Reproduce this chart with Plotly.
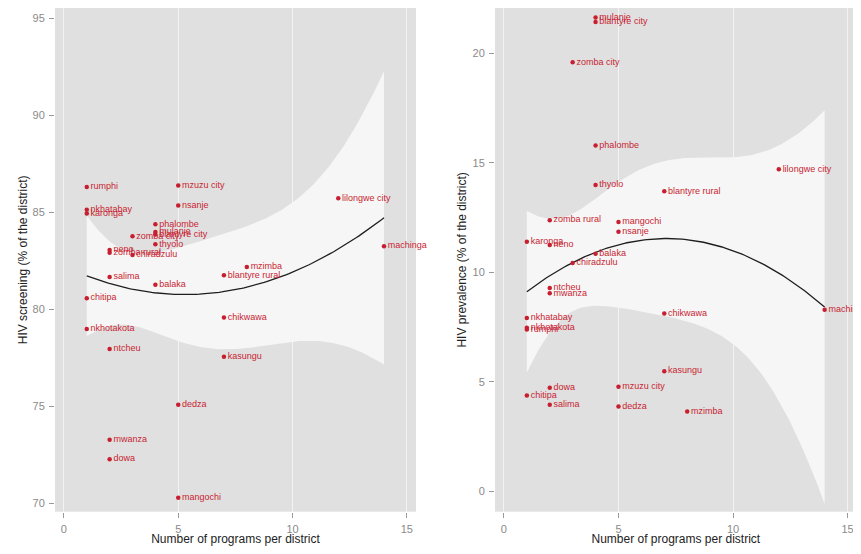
import numpy as np
import plotly.graph_objects as go

# ---------------- data ----------------
scr_names = ["rumphi", "nkhatabay", "karonga", "mzuzu city", "nsanje", "phalombe", "mulanje",
             "blantyre city", "zomba city", "thyolo", "neno", "zomba rural", "chiradzulu", "salima",
             "balaka", "chitipa", "mzimba", "blantyre rural", "lilongwe city", "machinga",
             "nkhotakota", "chikwawa", "ntcheu", "kasungu", "dedza", "mwanza", "dowa", "mangochi"]
scr_programs = [1, 1, 1, 5, 5, 4, 4, 4, 3, 4, 2, 2, 3, 2, 4, 1, 8, 7, 12, 14, 1, 7, 2, 7, 5, 2, 2, 5]
scr_values = [86.32, 85.14, 84.95, 86.39, 85.36, 84.39, 84.00, 83.87, 83.77, 83.36, 83.07, 82.93,
              82.81, 81.68, 81.27, 80.58, 82.19, 81.76, 85.73, 83.26, 78.99, 79.58, 77.96, 77.56,
              75.09, 73.28, 72.28, 70.29]

prev_names = ["mulanje", "blantyre city", "zomba city", "phalombe", "thyolo", "blantyre rural",
              "zomba rural", "mangochi", "nsanje", "karonga", "neno", "balaka", "chiradzulu",
              "ntcheu", "mwanza", "chikwawa", "nkhatabay", "nkhotakota", "rumphi", "kasungu",
              "dowa", "mzuzu city", "chitipa", "salima", "dedza", "mzimba", "lilongwe city",
              "machinga"]
prev_programs = [4, 4, 3, 4, 4, 7, 2, 5, 5, 1, 2, 4, 3, 2, 2, 7, 1, 1, 1, 7, 2, 5, 1, 2, 5, 8, 12, 14]
prev_values = [21.64, 21.43, 19.59, 15.79, 13.99, 13.70, 12.38, 12.30, 11.85, 11.39, 11.25, 10.84,
               10.42, 9.28, 9.04, 8.12, 7.91, 7.46, 7.38, 5.48, 4.72, 4.77, 4.37, 3.95, 3.87, 3.64,
               14.70, 8.29]

x_ticks = [0, 5, 10, 15]
scr_ticks = [70, 75, 80, 85, 90, 95]
prev_ticks = [0, 5, 10, 15, 20]

T_CRIT = 2.0595  # t(0.975, df=25)

RED = "#c81e32"
PANEL = "#e0e0e0"
BAND = "#f6f6f6"
GRID = "#f3f3f3"
FONT = "Liberation Sans, Arial, Helvetica, sans-serif"


def qfitci(x, y, n=120):
    x = np.asarray(x, float)
    y = np.asarray(y, float)
    X = np.column_stack([np.ones_like(x), x, x ** 2])
    beta, *_ = np.linalg.lstsq(X, y, rcond=None)
    resid = y - X @ beta
    s2 = resid @ resid / (len(x) - 3)
    xtx_inv = np.linalg.inv(X.T @ X)
    xs = np.linspace(x.min(), x.max(), n)
    Xs = np.column_stack([np.ones_like(xs), xs, xs ** 2])
    fit = Xs @ beta
    se = np.sqrt(s2 * np.einsum("ij,jk,ik->i", Xs, xtx_inv, Xs))
    return xs, fit, fit - T_CRIT * se, fit + T_CRIT * se


fig = go.Figure()


def add_panel(xs_data, ys_data, names, xa, ya):
    xs, fit, lo, hi = qfitci(xs_data, ys_data)
    fig.add_trace(go.Scatter(x=xs, y=lo, mode="lines", line=dict(width=0, color=BAND),
                             xaxis=xa, yaxis=ya, showlegend=False, hoverinfo="skip"))
    fig.add_trace(go.Scatter(x=xs, y=hi, mode="lines", line=dict(width=0, color=BAND),
                             fill="tonexty", fillcolor=BAND,
                             xaxis=xa, yaxis=ya, showlegend=False, hoverinfo="skip"))
    fig.add_trace(go.Scatter(x=xs, y=fit, mode="lines", line=dict(width=1.3, color="#1e1e1e"),
                             xaxis=xa, yaxis=ya, showlegend=False, hoverinfo="skip"))
    fig.add_trace(go.Scatter(x=xs_data, y=ys_data, mode="markers+text", text=names,
                             textposition="middle right",
                             textfont=dict(size=9, color=RED, family=FONT),
                             marker=dict(size=4.5, color=RED),
                             cliponaxis=False,
                             xaxis=xa, yaxis=ya, showlegend=False))


add_panel(scr_programs, scr_values, scr_names, "x", "y")
add_panel(prev_programs, prev_values, prev_names, "x2", "y2")

# page body adds an 8px offset; figure sized so the page does not scroll
OFF = 8
W, H = 861 - OFF, 554 - 2 * OFF
ydom = [1 - (511.7 - OFF) / H, 1.0]

xcommon = dict(tickvals=x_ticks, ticks="outside", ticklen=5, tickcolor="#9a9a9a", tickwidth=1,
               showgrid=True, gridcolor=GRID, gridwidth=1.3, zeroline=False, showline=False,
               automargin=False,
               tickfont=dict(size=11, color="#8a8a8a", family=FONT),
               title=dict(text="Number of programs per district",
                          font=dict(size=12, color="#222222", family=FONT), standoff=2),
               ticklabelstandoff=2)
ycommon = dict(ticks="outside", ticklen=5, tickcolor="#9a9a9a", tickwidth=1,
               showgrid=False, zeroline=False, showline=False, automargin=False,
               tickfont=dict(size=11, color="#8a8a8a", family=FONT), ticklabelstandoff=2)

fig.update_layout(
    template="none",
    width=W, height=H,
    margin=dict(l=0, r=0, t=0, b=0, autoexpand=False),
    paper_bgcolor="white",
    plot_bgcolor=PANEL,
    showlegend=False,
    xaxis=dict(domain=[(55 - OFF) / W, (416 - OFF) / W], range=[-0.39, 15.4], anchor="y", **xcommon),
    yaxis=dict(domain=ydom, range=[69.57, 95.51 + 0.7 / 19.44], tickvals=scr_ticks, anchor="x",
               title=dict(text="HIV screening (% of the district)",
                          font=dict(size=12, color="#222222", family=FONT), standoff=2),
               **ycommon),
    xaxis2=dict(domain=[(495 - OFF) / W, (856.7 - OFF) / W], range=[-0.39, 15.4], anchor="y2", **xcommon),
    yaxis2=dict(domain=ydom, range=[-0.94, 22.04 + 0.7 / 21.95], tickvals=prev_ticks, anchor="x2",
                title=dict(text="HIV prevalence (% of the district)",
                           font=dict(size=12, color="#222222", family=FONT), standoff=3),
                **ycommon),
)

fig.write_html("out.html")
